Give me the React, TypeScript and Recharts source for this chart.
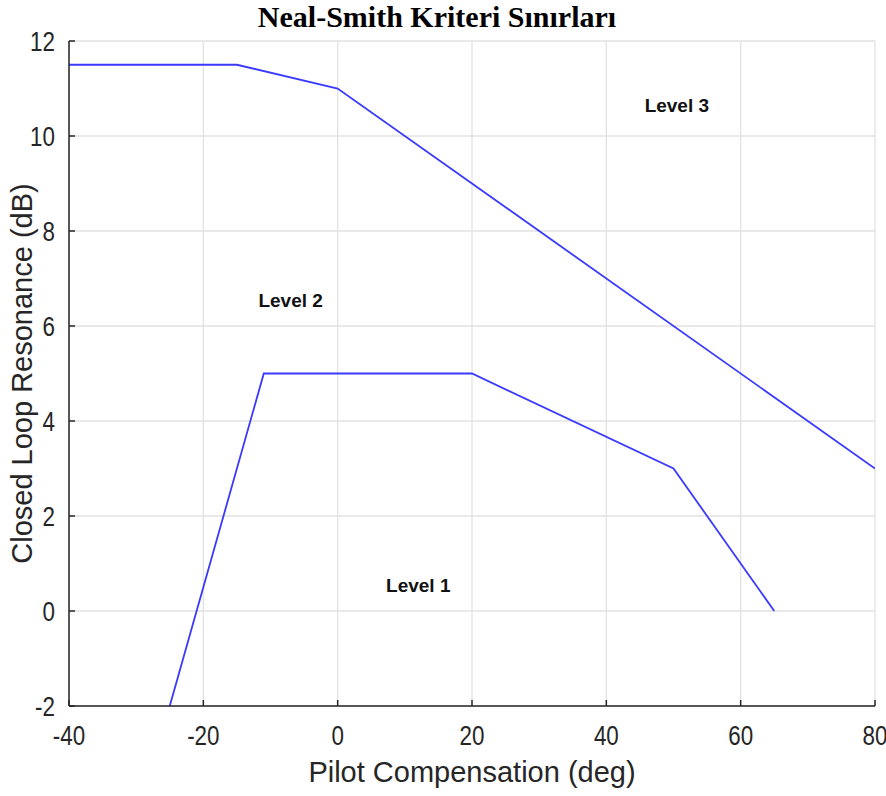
import { CartesianGrid, Customized, Label, Line, LineChart, ReferenceDot, XAxis, YAxis } from "recharts";

document.body.style.margin = "0";

// Level 1 / Level 2 boundary
const lowerX = [-25, -11, 20, 50, 65];
const lowerY = [-2, 5, 5, 3, 0];

// Level 2 / Level 3 boundary
const upperX = [-40, -15, 0, 80];
const upperY = [11.5, 11.5, 11, 3];

const xTicks = [-40, -20, 0, 20, 40, 60, 80];
const yTicks = [-2, 0, 2, 4, 6, 8, 10, 12];

const levelNames = ["Level 1", "Level 2", "Level 3"];
const levelX = [12, -7, 50.5];
const levelY = [0.55, 6.55, 10.65];

const lowerData = lowerX.map((x, i) => ({ x, y: lowerY[i] }));
const upperData = upperX.map((x, i) => ({ x, y: upperY[i] }));

const AXIS = "#262626";
const BLUE = "#3a3aff";
const SANS = "'Liberation Sans', Arial, sans-serif";

// tick numbers are drawn condensed
const TICK_SQUEEZE = 0.8;

const XTick = (props: any) => {
    const { x, y, payload } = props;
    return (
        <g>
            <line x1={x} x2={x} y1={y} y2={y - 6} stroke={AXIS} strokeWidth={1.5} />
            <text
                transform={`translate(${x} ${y + 39}) scale(${TICK_SQUEEZE} 1)`}
                textAnchor="middle"
                fill={AXIS}
                fontFamily={SANS}
                fontSize={28}
            >
                {payload.value}
            </text>
        </g>
    );
};

const YTick = (props: any) => {
    const { x, y, payload } = props;
    return (
        <g>
            <line x1={x} x2={x + 6} y1={y} y2={y} stroke={AXIS} strokeWidth={1.5} />
            <text
                transform={`translate(${x - 14} ${y + 10}) scale(${TICK_SQUEEZE} 1)`}
                textAnchor="end"
                fill={AXIS}
                fontFamily={SANS}
                fontSize={28}
            >
                {payload.value}
            </text>
        </g>
    );
};

const Title = () => (
    <text x={437} y={27} textAnchor="middle" fontFamily="'Liberation Serif', 'Times New Roman', serif" fontWeight="bold" fontSize={30} fill="#000">
        Neal-Smith Kriteri Sınırları
    </text>
);

export default function App() {
    return (
        <div style={{ width: 886, height: 796, background: "#fff" }}>
            <LineChart width={886} height={796} margin={{ top: 41, right: 11, bottom: 0, left: 0 }}>
                <CartesianGrid stroke="#e2e2e2" strokeWidth={1.3} />
                <XAxis
                    type="number"
                    dataKey="x"
                    domain={[-40, 80]}
                    ticks={xTicks}
                    height={90}
                    tickSize={0}
                    tickMargin={0}
                    tickLine={false}
                    tick={<XTick />}
                    axisLine={{ stroke: AXIS, strokeWidth: 1.5 }}
                    allowDataOverflow
                >
                    <Label
                        content={({ viewBox }: any) => (
                            <text x={viewBox.x + viewBox.width / 2} y={viewBox.y + 76} textAnchor="middle" fill={AXIS} fontFamily={SANS} fontSize={29}>
                                Pilot Compensation (deg)
                            </text>
                        )}
                    />
                </XAxis>
                <YAxis
                    type="number"
                    domain={[-2, 12]}
                    ticks={yTicks}
                    width={69}
                    tickSize={0}
                    tickMargin={0}
                    tickLine={false}
                    tick={<YTick />}
                    axisLine={{ stroke: AXIS, strokeWidth: 1.5 }}
                    allowDataOverflow
                >
                    <Label
                        content={({ viewBox }: any) => {
                            const cy = viewBox.y + viewBox.height / 2;
                            return (
                                <text x={32} y={cy} transform={`rotate(-90 32 ${cy})`} textAnchor="middle" fill={AXIS} fontFamily={SANS} fontSize={29}>
                                    Closed Loop Resonance (dB)
                                </text>
                            );
                        }}
                    />
                </YAxis>
                <Line data={upperData} dataKey="y" stroke={BLUE} strokeWidth={1.8} dot={false} isAnimationActive={false} />
                <Line data={lowerData} dataKey="y" stroke={BLUE} strokeWidth={1.8} dot={false} isAnimationActive={false} />
                {levelNames.map((name, i) => (
                    <ReferenceDot
                        key={name}
                        x={levelX[i]}
                        y={levelY[i]}
                        r={0}
                        fill="none"
                        stroke="none"
                        label={{ value: name, position: "center", fill: "#111", fontFamily: SANS, fontWeight: "bold", fontSize: 19 }}
                    />
                ))}
                <Customized component={Title} />
            </LineChart>
        </div>
    );
}
